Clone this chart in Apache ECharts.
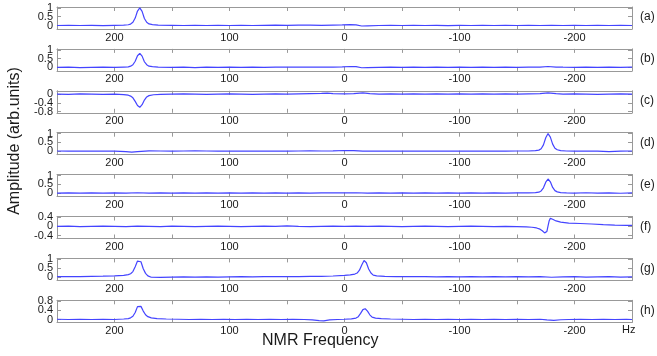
<!DOCTYPE html>
<html>
<head>
<meta charset="utf-8">
<script src="https://cdn.jsdelivr.net/npm/echarts@6/dist/echarts.min.js"></script>
<style>
  html, body { margin: 0; padding: 0; background: #fff; }
  #chart { width: 657px; height: 356px; }
</style>
</head>
<body>
<div id="chart"></div>
<script>
// spectra: [frequency (Hz), amplitude]
const specA = [[250,0.00],[240,0.01],[230,0.00],[220,0.01],[210,-0.01],[200,0.01],[192,0.02],[188,0.04],[186,0.08],[184,0.18],[182,0.42],[180,0.82],[178,1.00],[176,0.80],[174,0.40],[172,0.18],[170,0.09],[167,0.05],[162,0.02],[150,0.01],[140,0.00],[130,0.01],[120,0.00],[110,0.01],[100,0.00],[90,0.01],[80,0.00],[70,0.01],[60,0.02],[50,0.01],[40,0.02],[30,0.02],[20,0.01],[10,0.02],[2,0.03],[-5,0.05],[-10,0.03],[-15,-0.03],[-20,-0.02],[-30,0.00],[-40,0.01],[-50,0.00],[-60,0.01],[-70,0.00],[-80,0.01],[-90,-0.01],[-100,0.01],[-110,0.00],[-120,0.01],[-130,0.00],[-140,0.01],[-150,0.00],[-160,0.01],[-170,0.00],[-180,0.01],[-190,0.00],[-200,0.01],[-210,0.00],[-220,0.01],[-230,0.00],[-240,0.01],[-250,0.00]];
const specB = [[250,0.00],[240,0.01],[230,-0.01],[220,0.00],[210,0.01],[200,0.00],[192,0.02],[188,0.03],[186,0.07],[184,0.15],[182,0.35],[180,0.66],[178,0.80],[176,0.64],[174,0.32],[172,0.15],[170,0.07],[167,0.04],[162,0.02],[150,0.00],[140,0.01],[130,-0.01],[120,0.01],[110,0.00],[100,0.01],[90,0.00],[80,0.01],[70,0.00],[60,0.01],[50,0.02],[40,0.01],[30,0.02],[20,0.02],[10,0.01],[2,0.03],[-5,0.05],[-10,0.04],[-15,-0.02],[-20,-0.01],[-30,0.00],[-40,0.01],[-50,0.00],[-60,0.01],[-70,0.00],[-80,0.01],[-90,0.00],[-100,0.01],[-110,0.00],[-120,0.01],[-130,0.00],[-140,0.01],[-150,0.00],[-160,0.01],[-170,0.02],[-177,0.05],[-184,0.02],[-190,0.01],[-200,0.00],[-210,0.01],[-220,0.00],[-230,0.01],[-240,0.00],[-250,0.01]];
const specC = [[250,0.00],[240,-0.01],[230,0.01],[220,0.00],[210,-0.01],[200,0.00],[192,-0.02],[188,-0.05],[186,-0.09],[184,-0.17],[182,-0.33],[180,-0.52],[178,-0.60],[176,-0.48],[174,-0.27],[172,-0.13],[170,-0.07],[166,-0.03],[160,-0.01],[150,0.00],[140,0.01],[130,0.00],[120,-0.01],[110,0.00],[100,0.01],[90,0.00],[80,-0.01],[70,0.00],[60,0.01],[50,0.00],[40,0.01],[30,0.02],[20,0.03],[15,0.04],[10,0.02],[0,0.01],[-8,0.02],[-16,0.06],[-22,0.02],[-30,0.00],[-40,0.01],[-50,0.00],[-60,0.01],[-70,0.00],[-80,0.01],[-90,0.00],[-100,0.01],[-110,0.00],[-120,0.01],[-130,0.00],[-140,0.01],[-150,0.00],[-160,0.01],[-170,0.02],[-177,0.06],[-184,0.02],[-190,0.00],[-200,0.01],[-210,0.00],[-220,-0.01],[-230,0.00],[-240,0.01],[-250,0.00]];
const specD = [[250,0.01],[240,0.00],[230,0.01],[220,0.00],[210,0.01],[200,0.00],[190,-0.03],[185,-0.05],[180,-0.02],[170,0.02],[160,0.01],[150,0.00],[140,0.01],[130,0.02],[120,0.01],[110,0.00],[100,0.01],[90,0.00],[80,0.01],[70,0.00],[60,0.01],[50,0.00],[40,0.01],[30,0.02],[20,0.01],[10,0.02],[0,0.04],[-8,0.03],[-16,0.00],[-25,0.01],[-40,0.00],[-50,0.01],[-60,0.00],[-70,0.01],[-80,0.00],[-90,0.01],[-100,0.00],[-110,0.01],[-120,0.00],[-130,0.01],[-140,0.00],[-150,0.01],[-160,0.01],[-166,0.03],[-169,0.06],[-171,0.14],[-173,0.36],[-175,0.76],[-177,1.00],[-179,0.80],[-181,0.40],[-183,0.17],[-185,0.08],[-188,0.03],[-193,0.01],[-200,0.00],[-210,0.01],[-220,0.00],[-230,-0.02],[-240,0.00],[-250,0.01]];
const specE = [[250,0.00],[240,0.01],[230,0.00],[220,0.01],[210,0.00],[200,0.01],[190,0.00],[180,0.02],[170,0.00],[160,0.01],[150,0.00],[140,0.01],[130,0.00],[120,0.01],[110,0.00],[100,0.01],[90,0.00],[80,0.01],[70,0.00],[60,0.01],[50,0.00],[40,0.01],[30,0.00],[20,0.01],[10,0.02],[0,0.01],[-10,0.02],[-20,0.00],[-30,0.01],[-40,0.00],[-50,0.01],[-60,0.00],[-70,0.01],[-80,0.00],[-90,0.01],[-100,0.00],[-110,0.01],[-120,0.00],[-130,0.01],[-140,0.00],[-150,0.01],[-160,0.01],[-166,0.03],[-169,0.05],[-171,0.12],[-173,0.30],[-175,0.62],[-177,0.80],[-179,0.64],[-181,0.32],[-183,0.14],[-185,0.07],[-188,0.03],[-193,0.01],[-200,0.00],[-210,0.02],[-220,0.00],[-230,0.01],[-240,-0.01],[-250,0.01]];
const specF = [[250,0.00],[240,0.01],[230,-0.01],[220,0.00],[210,0.01],[200,0.00],[190,-0.01],[180,0.01],[170,0.00],[160,-0.01],[150,0.01],[140,0.00],[130,-0.01],[120,0.00],[110,0.01],[100,0.00],[90,-0.01],[80,0.00],[70,0.01],[60,0.00],[50,0.02],[40,0.00],[30,-0.01],[20,0.00],[10,0.01],[0,0.00],[-10,0.01],[-20,0.00],[-30,0.01],[-40,0.00],[-50,-0.01],[-60,0.00],[-70,0.01],[-80,0.00],[-90,-0.01],[-100,0.00],[-110,0.01],[-120,0.00],[-130,-0.01],[-140,0.00],[-150,-0.01],[-158,-0.02],[-163,-0.04],[-167,-0.07],[-170,-0.12],[-172,-0.19],[-174,-0.28],[-175,-0.31],[-176,-0.22],[-177,0.02],[-178,0.24],[-179,0.34],[-181,0.30],[-184,0.23],[-188,0.18],[-195,0.14],[-205,0.12],[-215,0.10],[-225,0.07],[-235,0.05],[-245,0.04],[-250,0.04]];
const specG = [[250,0.02],[240,0.01],[230,0.02],[220,0.03],[210,0.04],[200,0.06],[192,0.09],[188,0.13],[186,0.18],[184,0.30],[182,0.58],[180,0.90],[179,1.00],[177,0.86],[175,0.46],[173,0.20],[171,0.06],[168,-0.02],[160,-0.03],[150,-0.01],[140,0.00],[130,-0.01],[120,0.00],[110,-0.01],[100,0.00],[90,0.01],[80,0.00],[70,0.01],[60,0.02],[50,0.01],[40,0.02],[30,0.03],[20,0.03],[10,0.05],[0,0.08],[-5,0.11],[-9,0.16],[-11,0.22],[-13,0.38],[-15,0.68],[-17,0.93],[-19,0.80],[-21,0.45],[-23,0.22],[-25,0.10],[-28,0.06],[-35,0.03],[-45,0.02],[-55,0.01],[-70,0.02],[-80,0.00],[-90,0.01],[-100,0.00],[-110,0.01],[-120,0.00],[-130,0.01],[-140,0.00],[-150,0.01],[-160,0.00],[-170,0.01],[-180,-0.02],[-190,0.00],[-200,0.01],[-210,-0.01],[-220,0.00],[-230,0.01],[-240,-0.01],[-250,0.00]];
const specH = [[250,0.01],[240,0.00],[230,0.01],[220,0.00],[210,0.01],[200,0.00],[192,0.02],[188,0.04],[186,0.07],[184,0.14],[182,0.30],[180,0.55],[179,0.62],[177,0.56],[175,0.36],[173,0.20],[171,0.12],[168,0.07],[163,0.04],[155,0.02],[145,0.01],[135,0.00],[125,0.01],[115,0.00],[105,0.01],[95,0.00],[85,0.01],[75,0.00],[65,0.01],[55,0.00],[45,0.01],[35,0.00],[28,-0.02],[22,-0.05],[18,-0.06],[13,-0.02],[6,0.00],[0,0.01],[-6,0.03],[-10,0.06],[-12,0.12],[-14,0.26],[-16,0.42],[-18,0.46],[-20,0.36],[-22,0.20],[-24,0.10],[-27,0.06],[-32,0.04],[-40,0.02],[-50,0.01],[-60,0.00],[-70,0.01],[-80,0.00],[-90,0.01],[-100,0.00],[-110,0.01],[-120,0.00],[-130,0.01],[-140,0.00],[-150,0.01],[-160,0.00],[-170,0.01],[-176,-0.02],[-182,-0.04],[-188,-0.01],[-195,0.00],[-205,0.01],[-215,0.00],[-225,0.01],[-235,0.00],[-245,0.01],[-250,0.00]];

const panelData = [specA, specB, specC, specD, specE, specF, specG, specH];
const panelLabels = ['(a)', '(b)', '(c)', '(d)', '(e)', '(f)', '(g)', '(h)'];
const yTickValues = [
  [0, 0.5, 1], [0, 0.5, 1], [-0.8, -0.4, 0], [0, 0.5, 1],
  [0, 0.5, 1], [-0.4, 0, 0.4], [0, 0.5, 1], [0, 0.4, 0.8]
];
const yRanges = [
  [-0.2, 1.05], [-0.2, 1.05], [-0.85, 0.15], [-0.2, 1.05],
  [-0.2, 1.05], [-0.52, 0.42], [-0.2, 1.05], [-0.12, 0.82]
];

const chart = echarts.init(document.getElementById('chart'), null, { renderer: 'canvas' });

const FONT = '"Liberation Sans", Arial, Helvetica, sans-serif';
const frameColor = '#999999';
const lineBlue = '#4444ff';
const plotLeft = 57, plotWidth = 575, panelHeight = 22;
const panelTop = i => 7 + i * 41.9;

const grid = [], xAxis = [], yAxis = [], series = [], graphic = [];

panelData.forEach((data, i) => {
  grid.push({ left: plotLeft, width: plotWidth, top: panelTop(i), height: panelHeight });

  const xBase = {
    gridIndex: i,
    type: 'value',
    inverse: true,
    min: -250,
    max: 250,
    interval: 50,
    splitLine: { show: false },
    axisLine: { show: true, onZero: false, lineStyle: { color: frameColor, width: 1 } },
    axisTick: { show: true, inside: true, length: 4, lineStyle: { color: frameColor } }
  };
  xAxis.push(Object.assign({}, xBase, {
    position: 'bottom',
    axisLabel: {
      color: '#1a1a1a', fontSize: 11, fontFamily: FONT, margin: 3,
      formatter: v => (v % 100 === 0 ? String(v) : '')
    }
  }));
  xAxis.push(Object.assign({}, xBase, { position: 'top', axisLabel: { show: false } }));

  const yBase = {
    gridIndex: i,
    type: 'value',
    min: yRanges[i][0],
    max: yRanges[i][1],
    splitLine: { show: false },
    axisLabel: { show: false },
    axisLine: { show: true, onZero: false, lineStyle: { color: frameColor, width: 1 } },
    axisTick: { show: true, inside: true, length: 4, customValues: yTickValues[i], lineStyle: { color: frameColor } }
  };
  yAxis.push(Object.assign({}, yBase, { position: 'left' }));
  yAxis.push(Object.assign({}, yBase, { position: 'right' }));

  series.push({
    type: 'line',
    xAxisIndex: i * 2,
    yAxisIndex: i * 2,
    data: data,
    showSymbol: false,
    symbol: 'none',
    lineStyle: { color: lineBlue, width: 1.2 },
    animation: false,
    clip: true
  });

  graphic.push({
    type: 'text',
    left: 640,
    top: panelTop(i) + 4,
    style: { text: panelLabels[i], fill: '#1a1a1a', font: '12px ' + FONT }
  });
});

graphic.push({
  type: 'text',
  left: 262,
  top: 333,
  style: { text: 'NMR Frequency', fill: '#1a1a1a', font: '16px ' + FONT }
});
graphic.push({
  type: 'text',
  left: 622,
  top: 324,
  style: { text: 'Hz', fill: '#1a1a1a', font: '11px ' + FONT }
});
graphic.push({
  type: 'text',
  x: 15,
  y: 141,
  rotation: Math.PI / 2,
  style: {
    text: 'Amplitude (arb.units)', fill: '#1a1a1a', font: '16px ' + FONT,
    align: 'center', verticalAlign: 'middle'
  }
});

chart.setOption({
  animation: false,
  grid: grid,
  xAxis: xAxis,
  yAxis: yAxis,
  series: series,
  graphic: graphic
});

// y tick labels are packed tighter than echarts allows, so place them
// at the axis positions the library computes
const yLabels = [];
yTickValues.forEach((ticks, i) => {
  ticks.forEach(v => {
    const py = chart.convertToPixel({ yAxisIndex: i * 2 }, v);
    yLabels.push({
      type: 'text',
      x: plotLeft - 4,
      y: py,
      style: {
        text: String(v), fill: '#1a1a1a', font: '11px ' + FONT,
        align: 'right', verticalAlign: 'middle'
      }
    });
  });
});
chart.setOption({ graphic: graphic.concat(yLabels) });
</script>
</body>
</html>
